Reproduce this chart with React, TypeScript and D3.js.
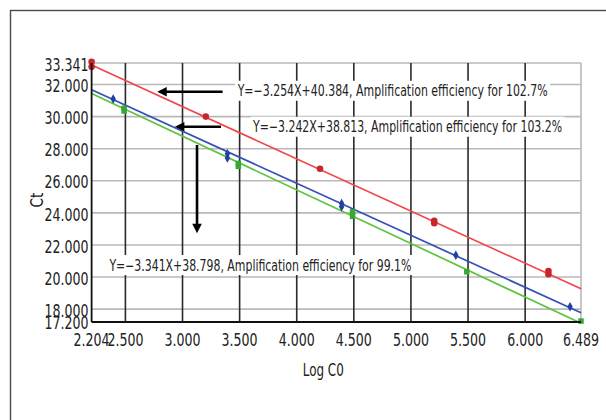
import React from "react";
import * as d3 from "d3";

// ---- data ----
const xTicks = [2.204, 2.5, 3.0, 3.5, 4.0, 4.5, 5.0, 5.5, 6.0, 6.489];
const xTickLabels = ["2.204", "2.500", "3.000", "3.500", "4.000", "4.500", "5.000", "5.500", "6.000", "6.489"];
const yTicks = [17.2, 18, 20, 22, 24, 26, 28, 30, 32, 33.341];
const yTickLabels = ["17.200", "18.000", "20.000", "22.000", "24.000", "26.000", "28.000", "30.000", "32.000", "33.341"];

const redX = [2.204, 2.204, 3.204, 4.204, 5.204, 5.204, 6.204, 6.204];
const redY = [33.42, 33.1, 30.0, 26.75, 23.5, 23.35, 20.38, 20.18];
const blueX = [2.393, 3.393, 3.393, 4.393, 4.393, 5.393, 6.393];
const blueY = [31.09, 27.68, 27.42, 24.58, 24.38, 21.36, 18.15];
const greenX = [2.489, 2.489, 3.489, 3.489, 4.489, 4.489, 5.489, 6.489];
const greenY = [30.52, 30.35, 27.08, 26.9, 24.07, 23.78, 20.33, 17.26];

const slopes = [-3.254, -3.242, -3.341];
const intercepts = [40.384, 38.813, 38.798];
const equationLabels = [
  "Y=\u22123.254X+40.384, Amplification efficiency for 102.7%",
  "Y=\u22123.242X+38.813, Amplification efficiency for 103.2%",
  "Y=\u22123.341X+38.798, Amplification efficiency for 99.1%",
];
const xTitle = "Log C0";
const yTitle = "Ct";

const W = 606;
const H = 420;
const left = 91.6;
const right = 581;
const top = 63;
const bottom = 322;

const FONT = "'Liberation Sans Narrow', 'DejaVu Sans Condensed', 'Roboto', sans-serif";

const lineColors = ["#f0474a", "#3450b5", "#5ec33e"];
const markColors = ["#c8262b", "#2340a0", "#35a832"];

export default function App() {
  const x = d3.scaleLinear().domain([xTicks[0], xTicks[xTicks.length - 1]]).range([left, right]);
  const y = d3.scaleLinear().domain([yTicks[0], yTicks[yTicks.length - 1]]).range([bottom, top]);

  const line = d3
    .line<number>()
    .x((d) => x(d[0]))
    .y((d) => y(d[1]));

  const x0 = xTicks[0];
  const x1 = xTicks[xTicks.length - 1];

  const series = [
    { xs: redX, ys: redY, shape: d3.symbolCircle, size: 34 },
    { xs: blueX, ys: blueY, shape: d3.symbolDiamond, size: 26 },
    { xs: greenX, ys: greenY, shape: d3.symbolSquare, size: 30 },
  ];

  // annotation placement (in data units)
  const notes = [
    { tx: 3.483, ty: 31.61, len: 310, ax0: 3.351, ax1: 2.779, ay: 31.55 },
    { tx: 3.618, ty: 29.37, len: 309, ax0: 3.337, ax1: 2.933, ay: 29.37 },
    { tx: 2.36, ty: 20.75, len: 302 },
  ];

  const arrowHead = (tipX: number, tipY: number, dir: "left" | "down") => {
    if (dir === "left") {
      return `M${tipX},${tipY} L${tipX + 9.5},${tipY - 4.8} L${tipX + 9.5},${tipY + 4.8} Z`;
    }
    return `M${tipX},${tipY} L${tipX - 4.8},${tipY - 9.5} L${tipX + 4.8},${tipY - 9.5} Z`;
  };

  return (
    <svg
      width={W}
      height={H}
      style={{ position: "absolute", left: 0, top: 0, background: "#fff" }}
      fontFamily={FONT}
    >
      <rect x={0} y={0} width={W} height={H} fill="#fff" />
      <rect x={10.5} y={10.5} width={700} height={500} fill="none" stroke="#4a4a4a" strokeWidth={1.4} />

      {/* horizontal gridlines */}
      {yTicks.slice(1).map((t) => (
        <line key={"hg" + t} x1={left} x2={right} y1={y(t)} y2={y(t)} stroke="#b9b9b9" strokeWidth={1.6} />
      ))}
      {/* right border */}
      <line x1={right} x2={right} y1={top} y2={bottom} stroke="#b9b9b9" strokeWidth={1.6} />
      {/* vertical gridlines */}
      {xTicks.slice(1, -1).map((t) => (
        <line key={"vg" + t} x1={x(t)} x2={x(t)} y1={top} y2={bottom} stroke="#2a2a2a" strokeWidth={1.6} />
      ))}

      {/* annotation boxes */}
      {notes.map((n, i) => (
        <rect
          key={"box" + i}
          x={x(n.tx) - 2.5}
          y={y(n.ty) - 10}
          width={n.len + 5}
          height={20}
          fill="#fff"
        />
      ))}

      {/* regression lines */}
      {slopes.map((s, i) => (
        <path
          key={"rl" + i}
          d={line([
            [x0, s * x0 + intercepts[i]],
            [x1, s * x1 + intercepts[i]],
          ] as any) as string}
          fill="none"
          stroke={lineColors[i]}
          strokeWidth={1.7}
        />
      ))}

      {/* points */}
      {series.map((se, si) =>
        se.xs.map((xv, j) => (
          <path
            key={"pt" + si + "-" + j}
            d={d3.symbol().type(se.shape).size(se.size)() as string}
            transform={`translate(${x(xv)},${y(se.ys[j])})`}
            fill={markColors[si]}
          />
        ))
      )}

      {/* axes */}
      <line x1={left} x2={left} y1={top} y2={bottom} stroke="#111" strokeWidth={1.8} />
      <line x1={left} x2={right} y1={bottom} y2={bottom} stroke="#111" strokeWidth={1.8} />

      {/* arrows */}
      {notes.slice(0, 2).map((n, i) => (
        <g key={"ar" + i}>
          <line x1={x(n.ax0!)} x2={x(n.ax1!) + 8} y1={y(n.ay!)} y2={y(n.ay!)} stroke="#000" strokeWidth={2.6} />
          <path d={arrowHead(x(n.ax1!), y(n.ay!), "left")} fill="#000" />
        </g>
      ))}
      <line x1={x(3.127)} x2={x(3.127)} y1={y(28.23)} y2={y(22.73) - 8} stroke="#000" strokeWidth={2.6} />
      <path d={arrowHead(x(3.127), y(22.73), "down")} fill="#000" />

      {/* annotation texts */}
      {notes.map((n, i) => (
        <text
          key={"nt" + i}
          x={x(n.tx)}
          y={y(n.ty)}
          dy="0.36em"
          fontSize={15.5}
          fill="#222"
          textLength={n.len}
          lengthAdjust="spacingAndGlyphs"
        >
          {equationLabels[i]}
        </text>
      ))}

      {/* y tick labels */}
      {yTicks.map((t, i) => (
        <text
          key={"yl" + t}
          x={left - 3}
          y={y(t) + (i === 0 ? 0.5 : 1.5)}
          dy="0.36em"
          textAnchor="end"
          fontSize={17}
          fill="#222"
          textLength={yTickLabels[i].length === 6 ? 44 : 37}
          lengthAdjust="spacingAndGlyphs"
        >
          {yTickLabels[i]}
        </text>
      ))}

      {/* x tick labels */}
      {xTicks.map((t, i) => (
        <text
          key={"xl" + t}
          x={x(t)}
          y={339.5}
          dy="0.36em"
          textAnchor="middle"
          fontSize={17}
          fill="#222"
          textLength={36}
          lengthAdjust="spacingAndGlyphs"
        >
          {xTickLabels[i]}
        </text>
      ))}

      {/* axis titles */}
      <text
        x={(left + right) / 2 - 13}
        y={370}
        dy="0.36em"
        textAnchor="middle"
        fontSize={17}
        fill="#222"
        textLength={41}
        lengthAdjust="spacingAndGlyphs"
      >
        {xTitle}
      </text>
      <text
        transform={`translate(36.5,200) rotate(-90)`}
        dy="0.36em"
        textAnchor="middle"
        fontSize={17}
        fill="#222"
        textLength={15}
        lengthAdjust="spacingAndGlyphs"
      >
        {yTitle}
      </text>
    </svg>
  );
}
